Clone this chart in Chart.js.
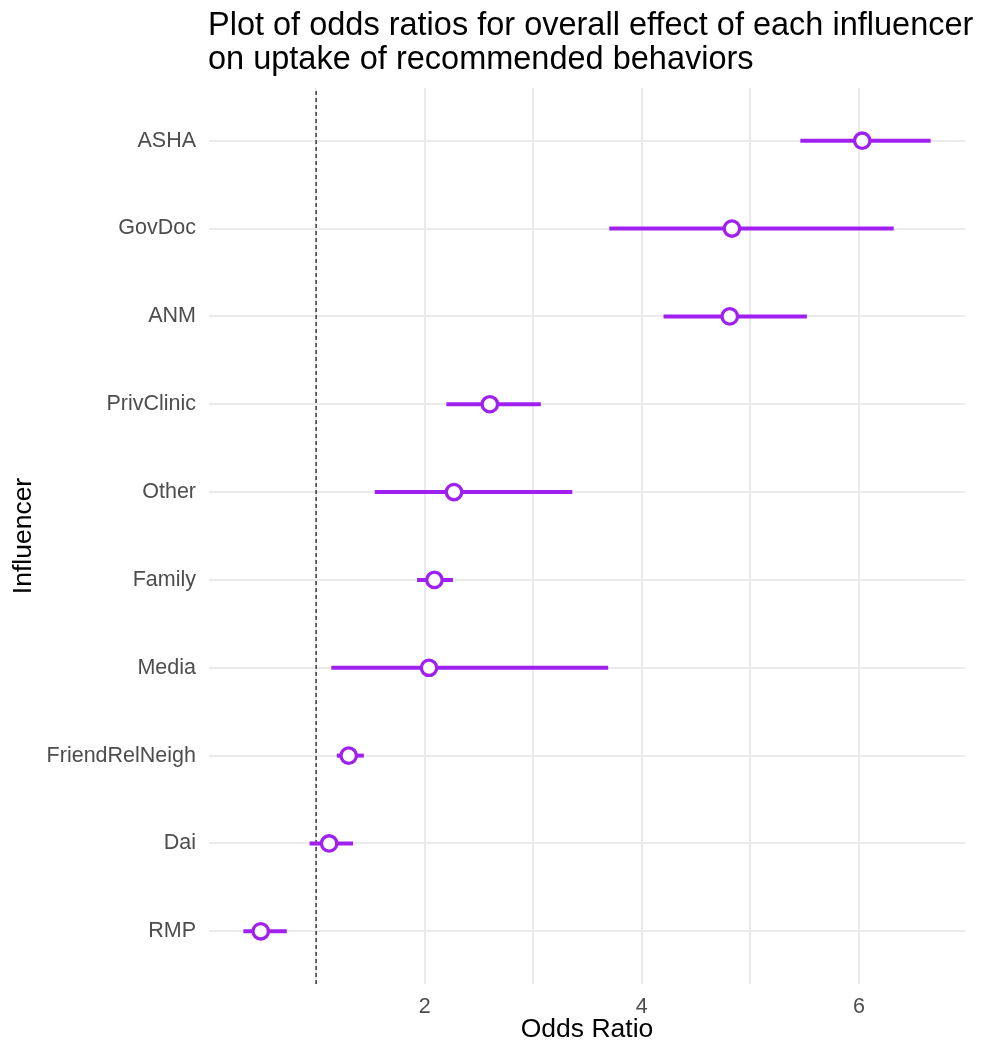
<!DOCTYPE html>
<html><head><meta charset="utf-8">
<script src="https://cdn.jsdelivr.net/npm/chart.js@4"></script>
<style>html,body{margin:0;padding:0;background:#fff}#c{display:block}</style>
</head><body>
<canvas id="c" width="987" height="1046"></canvas>
<script>
// ---- data ----
const categories = ['ASHA','GovDoc','ANM','PrivClinic','Other','Family','Media','FriendRelNeigh','Dai','RMP'];
const oddsRatio  = [6.03, 4.83, 4.81, 2.60, 2.27, 2.09, 2.04, 1.30, 1.12, 0.49];
const lowerCI    = [5.46, 3.70, 4.20, 2.20, 1.54, 1.93, 1.14, 1.19, 0.94, 0.33];
const upperCI    = [6.66, 6.32, 5.52, 3.07, 3.36, 2.26, 3.69, 1.44, 1.34, 0.73];
const xTickLabels = [2, 4, 6];
const referenceOR = 1;
const titleLines = ['Plot of odds ratios for overall effect of each influencer', 'on uptake of recommended behaviors'];
const xTitle = 'Odds Ratio';
const yTitle = 'Influencer';

// ---- style ----
const PURPLE = '#A020F0';
const FONT = '"Liberation Sans", Arial, Helvetica, sans-serif';
const n = categories.length;
const yPos = i => n - i;

const dLo = Math.min(...lowerCI, referenceOR), dHi = Math.max(...upperCI, referenceOR);
const padX = (dHi - dLo) * 0.05;
const xMin = dLo - padX, xMax = dHi + padX;
const yMin = 0.4, yMax = n + 0.6;

const titlePlugin = {
  id: 'ggtitle',
  afterDraw(chart) {
    const ctx = chart.ctx;
    ctx.save();
    ctx.font = '32.5px ' + FONT;
    ctx.fillStyle = '#000';
    ctx.textAlign = 'left';
    ctx.textBaseline = 'alphabetic';
    titleLines.forEach((t, i) => ctx.fillText(t, chart.chartArea.left - 1, 35 + i * 34));
    ctx.restore();
  }
};

const datasets = [];
datasets.push({
  label: 'OR',
  data: categories.map((c, i) => ({x: oddsRatio[i], y: yPos(i)})),
  showLine: false,
  pointRadius: 7.7,
  pointBorderWidth: 3.3,
  pointBackgroundColor: '#fff',
  pointBorderColor: PURPLE,
  order: 0
});
categories.forEach((c, i) => {
  datasets.push({
    label: c + ' CI',
    data: [{x: lowerCI[i], y: yPos(i)}, {x: upperCI[i], y: yPos(i)}],
    showLine: true,
    borderColor: PURPLE,
    borderWidth: 4,
    borderCapStyle: 'butt',
    pointRadius: 0,
    order: 1
  });
});
datasets.push({
  label: 'ref',
  data: [{x: referenceOR, y: yMin}, {x: referenceOR, y: yMax}],
  showLine: true,
  borderColor: '#222222',
  borderWidth: 1.3,
  borderDash: [4, 3],
  pointRadius: 0,
  order: 2
});

new Chart(document.getElementById('c'), {
  type: 'scatter',
  data: { datasets },
  plugins: [titlePlugin],
  options: {
    responsive: false,
    animation: false,
    devicePixelRatio: 1,
    layout: { padding: { top: 88, right: 22, bottom: 0, left: 0 } },
    plugins: { legend: { display: false }, tooltip: { enabled: false } },
    scales: {
      x: {
        type: 'linear',
        min: xMin, max: xMax,
        afterBuildTicks: s => {
          const t = [];
          for (let v = Math.ceil(xMin); v <= Math.floor(xMax); v++) t.push({value: v});
          s.ticks = t;
        },
        afterFit: s => { s.height = 62; },
        border: { display: false },
        grid: { color: '#EBEBEB', lineWidth: 2, drawTicks: false },
        ticks: {
          autoSkip: false, maxRotation: 0, padding: 10,
          color: '#4D4D4D', font: { family: FONT, size: 21.5 },
          callback: v => xTickLabels.includes(v) ? String(v) : ''
        },
        title: { display: true, text: xTitle, color: '#000', font: { family: FONT, size: 26.5 }, padding: { top: 0, bottom: 0 } }
      },
      y: {
        type: 'linear',
        min: yMin, max: yMax,
        afterBuildTicks: s => { s.ticks = categories.map((c, i) => ({value: yPos(i)})); },
        afterFit: s => { s.width = 209; },
        border: { display: false },
        grid: { color: '#EBEBEB', lineWidth: 2, drawTicks: false },
        ticks: {
          autoSkip: false, padding: 13,
          color: '#4D4D4D', font: { family: FONT, size: 21.5 },
          callback: v => categories[n - Math.round(v)]
        },
        title: { display: true, text: yTitle, color: '#000', font: { family: FONT, size: 26.5 }, padding: { top: 7.6, bottom: 0 } }
      }
    }
  }
});
</script>
</body></html>
